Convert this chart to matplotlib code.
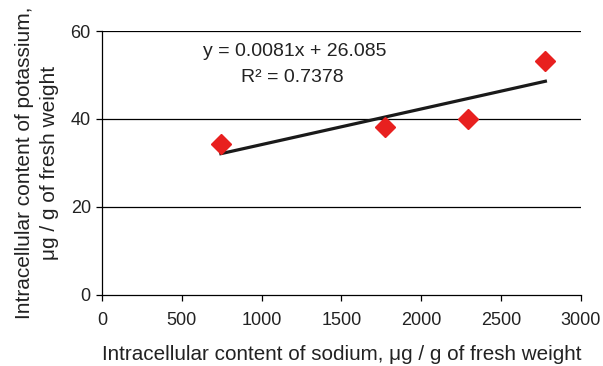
import matplotlib.pyplot as plt
import numpy as np

plt.rcParams['font.family'] = ['Liberation Sans', 'DejaVu Sans']

# data
sodium = [745, 1772, 2290, 2777]
potassium = [34.3, 38.1, 40.0, 53.1]
slope, intercept = 0.0081, 26.085
x_ticks = [0, 500, 1000, 1500, 2000, 2500, 3000]
y_ticks = [0, 20, 40, 60]

fig = plt.figure(figsize=(6.03, 3.66), dpi=100)
ax = fig.add_axes([0.169, 0.194, 0.7945, 0.7213])

# trendline over data range
xs = np.array([min(sodium), max(sodium)])
ax.plot(xs, slope * xs + intercept, color='#1a1a1a', lw=2.3, zorder=3)
ax.plot(sodium, potassium, 'D', color='#e8201f', ms=10, mec='#e8201f', zorder=4, clip_on=False)

ax.set_xlim(0, 3000)
ax.set_ylim(0, 60)
ax.set_xticks(x_ticks)
ax.set_yticks(y_ticks)
for y in y_ticks[1:]:
    ax.axhline(y, color='black', lw=0.9, zorder=1)

for s in ['top', 'right']:
    ax.spines[s].set_visible(False)
for s in ['left', 'bottom']:
    ax.spines[s].set_linewidth(0.9)
ax.tick_params(direction='out', length=4, width=0.9, labelsize=13, labelcolor='#222222', pad=4)
ax.tick_params(axis='x', pad=8)

ax.text(1205, 55.3, 'y = 0.0081x + 26.085', ha='center', va='center', fontsize=14, color='#222222')
ax.text(1195, 49.5, 'R² = 0.7378', ha='center', va='center', fontsize=14, color='#222222')

ax.set_xlabel('Intracellular content of sodium, μg / g of fresh weight', fontsize=14.9, labelpad=12, color='#222222')
ax.set_ylabel('Intracellular content of potassium,\nμg / g of fresh weight', fontsize=15, labelpad=8,
              color='#222222', linespacing=1.4)

fig.savefig('out.png', dpi=100)
